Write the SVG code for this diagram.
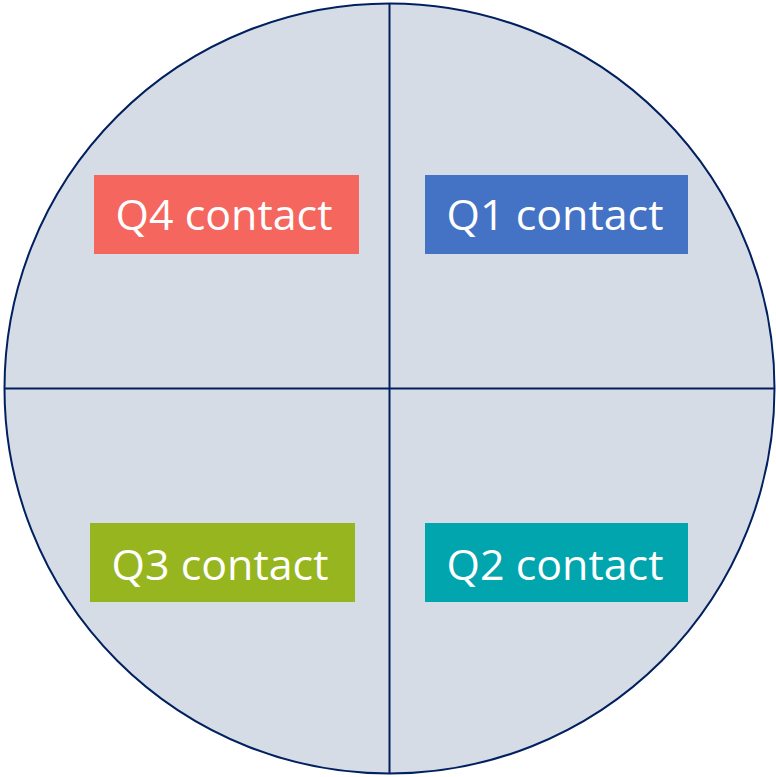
<svg xmlns="http://www.w3.org/2000/svg" width="776" height="777" viewBox="0 0 776 777">
<style>
.lbl{font-family:"Open Sans","Noto Sans","Liberation Sans",sans-serif;font-size:42px;fill:#FFFFFF;text-anchor:middle}
.ln{stroke:#002060;stroke-width:2;fill:none}
</style>
<rect width="776" height="777" fill="#FFFFFF"/>
<g id="circle">
<circle cx="389.5" cy="388.5" r="385" fill="#D6DCE5" stroke="#002060" stroke-width="2"/>
</g>
<g id="connectors">
<line class="ln" x1="389.5" y1="3.5" x2="389.5" y2="773.5"/>
<line class="ln" x1="4.5" y1="388.5" x2="774.5" y2="388.5"/>
</g>
<g id="q4">
<rect x="94" y="175" width="265" height="79" fill="#F4665E"/>
<text class="lbl" x="224" y="230" textLength="217" lengthAdjust="spacingAndGlyphs">Q4 contact</text>
</g>
<g id="q1">
<rect x="425" y="175" width="263" height="79" fill="#4472C4"/>
<text class="lbl" x="555" y="230" textLength="217" lengthAdjust="spacingAndGlyphs">Q1 contact</text>
</g>
<g id="q3">
<rect x="90" y="523" width="265" height="79" fill="#97B51E"/>
<text class="lbl" x="220" y="580" textLength="217" lengthAdjust="spacingAndGlyphs">Q3 contact</text>
</g>
<g id="q2">
<rect x="425" y="523" width="263" height="79" fill="#00A5AE"/>
<text class="lbl" x="555" y="580" textLength="217" lengthAdjust="spacingAndGlyphs">Q2 contact</text>
</g>
</svg>
